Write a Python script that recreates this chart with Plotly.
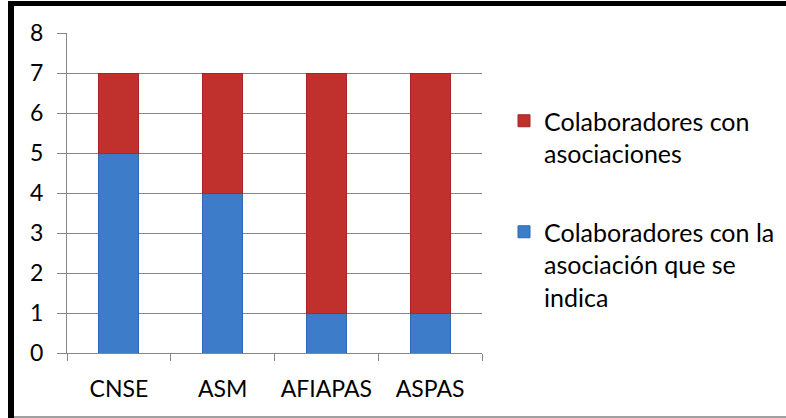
import plotly.graph_objects as go

categories = ["CNSE", "ASM", "AFIAPAS", "ASPAS"]
indicated = [5, 4, 1, 1]
associations = [2, 3, 6, 6]
name_indicated = "Colaboradores con la<br>asociación que se<br>indica"
name_assoc = "Colaboradores con<br>asociaciones"
y_ticks = [0, 1, 2, 3, 4, 5, 6, 7, 8]

W, H = 786, 418
L, R, T, B = 67, 482, 33, 353

def px(x):
    return (x - L) / (R - L)

def py(y):
    return (B - y) / (B - T)

FONT = "Lato, 'Open Sans', sans-serif"

fig = go.Figure()
fig.add_trace(go.Bar(
    x=categories, y=indicated, name=name_indicated, legendgroup="a",
    legendrank=2,
    marker=dict(color="#3D7CC9", line=dict(color="#2F68B0", width=1)),
))
fig.add_trace(go.Bar(
    x=categories, y=associations, name=name_assoc, legendgroup="b",
    legendrank=1,
    marker=dict(color="#C0302C", line=dict(color="#A52623", width=1)),
))

fig.update_layout(
    width=W, height=H,
    margin=dict(l=L, r=W - R, t=T, b=H - B, pad=0, autoexpand=False),
    barmode="stack", bargap=0.614,
    paper_bgcolor="white", plot_bgcolor="white",
    font=dict(family=FONT, size=22, color="#000000"),
    showlegend=True,
    legend=dict(
        x=px(504), y=py(98), xanchor="left", yanchor="top",
        traceorder="grouped", tracegroupgap=43, valign="top",
        font=dict(family=FONT, size=25, color="#000000"),
        itemwidth=30, bgcolor="rgba(0,0,0,0)",
    ),
    xaxis=dict(
        type="category", range=[-0.5, 3.5],
        showline=True, linecolor="#868686", linewidth=1,
        ticks="outside", tickson="boundaries", ticklen=7, tickcolor="#868686",
        ticklabelstandoff=15, showgrid=False,
        tickfont=dict(family=FONT, size=23),
    ),
    yaxis=dict(
        range=[0, 8], tickvals=y_ticks,
        showline=True, linecolor="#868686", linewidth=1,
        ticks="outside", ticklen=9, tickcolor="#868686",
        showgrid=True, gridcolor="#868686", gridwidth=1,
        zeroline=False, ticklabelstandoff=9,
        tickfont=dict(family=FONT, size=23),
    ),
    shapes=[
        dict(type="line", xref="paper", yref="paper",
             x0=px(11), x1=px(11), y0=py(1), y1=py(418),
             line=dict(color="black", width=6)),
        dict(type="line", xref="paper", yref="paper",
             x0=px(8), x1=px(786), y0=py(3.5), y1=py(3.5),
             line=dict(color="black", width=5)),
        dict(type="line", xref="paper", yref="paper",
             x0=px(14), x1=px(786), y0=py(417), y1=py(417),
             line=dict(color="#A0A0A0", width=2)),
    ],
)

fig.write_html("out.html")
